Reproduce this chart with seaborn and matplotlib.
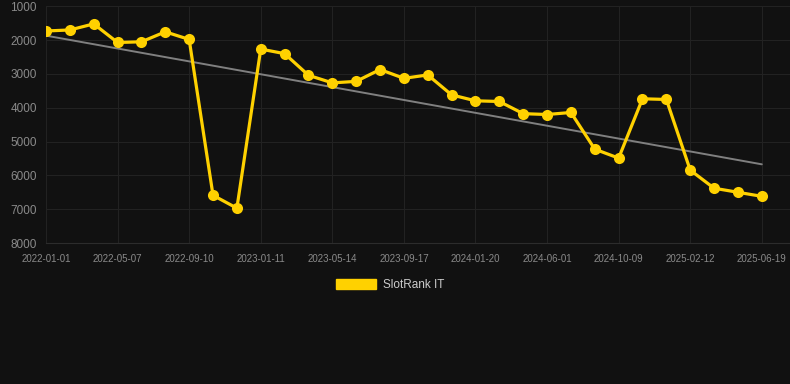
import pandas as pd
import numpy as np
import matplotlib.pyplot as plt
import matplotlib.patches as mpatches
import seaborn as sns

# Rank values (lower rank number = better, axis is inverted)
ranks = [1730, 1700, 1520, 2070, 2050, 1755, 1980, 6590, 6970, 2265,
         2400, 3040, 3265, 3220, 2870, 3130, 3030, 3620, 3795, 3815,
         4175, 4200, 4140, 5225, 5490, 3735, 3755, 5845, 6380, 6500, 6620]
tick_labels = ["2022-01-01", "2022-05-07", "2022-09-10", "2023-01-11",
               "2023-05-14", "2023-09-17", "2024-01-20", "2024-06-01",
               "2024-10-09", "2025-02-12", "2025-06-19"]
y_ticks = [1000, 2000, 3000, 4000, 5000, 6000, 7000, 8000]

df = pd.DataFrame({"step": np.arange(len(ranks)), "rank": ranks})

bg = "#111111"
gold = "#FFD100"

sns.set_theme(style="dark")
plt.rcParams["font.family"] = ["Liberation Sans", "DejaVu Sans"]

fig = plt.figure(figsize=(7.9, 3.84), dpi=100, facecolor=bg)
ax = fig.add_axes([46 / 790, 1 - 243 / 384, 1 - 46 / 790, (243 - 6.3) / 384])
ax.set_facecolor(bg)

# trend line (least squares)
sns.regplot(data=df, x="step", y="rank", ax=ax, scatter=False, ci=None,
            line_kws={"color": "#808080", "linewidth": 1.4}, truncate=True)

sns.lineplot(data=df, x="step", y="rank", ax=ax, color=gold, linewidth=2.3,
             marker="o", markersize=8, markeredgewidth=0, zorder=3)

ax.set_ylim(8000, 1000)
ax.set_xlim(0, (790 - 46) / 23.86)
ax.set_yticks(y_ticks)
ax.set_yticklabels([str(v) for v in y_ticks], fontsize=8.5, color="#8a8a8a")
ax.set_xticks(np.arange(0, len(ranks), 3))
ax.set_xticklabels(tick_labels, fontsize=7, color="#8a8a8a")
ax.tick_params(axis="y", length=0, pad=6.5)
ax.tick_params(axis="x", length=0, pad=8)
ax.set_xlabel("")
ax.set_ylabel("")
ax.grid(True, color="#222222", linewidth=0.8)
for side in ["top", "right", "left"]:
    ax.spines[side].set_visible(False)
ax.spines["bottom"].set_color("#2c2c2c")
ax.spines["bottom"].set_linewidth(0.8)

handle = mpatches.Patch(color=gold, label="SlotRank IT")
fig.legend(handles=[handle], loc="center", bbox_to_anchor=(390 / 790, 1 - 285 / 384),
           frameon=False, fontsize=8.5, labelcolor="#cccccc",
           handlelength=3.4, handleheight=1.0, handletextpad=0.6)

fig.savefig("out.png", dpi=100, facecolor=bg)
